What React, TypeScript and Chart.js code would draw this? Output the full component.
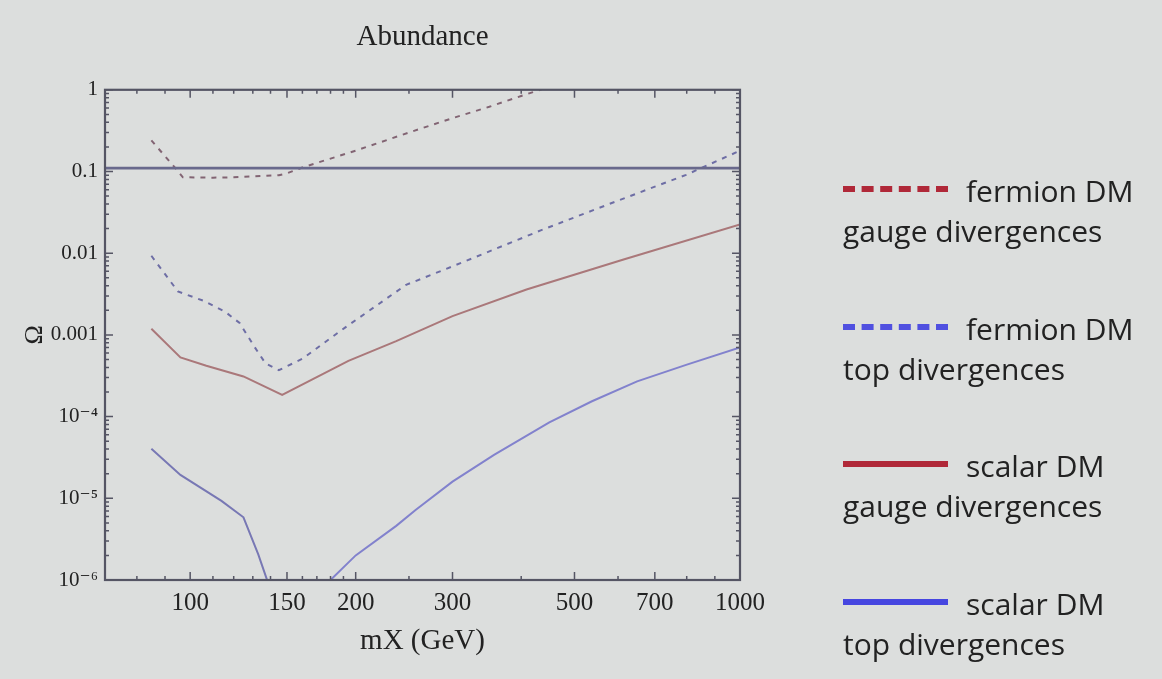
import React, { useEffect, useRef } from "react";
import { Chart, registerables } from "chart.js";

Chart.register(...registerables);

// ---- axes / ticks ----
const xMajorTicks = [100, 150, 200, 300, 500, 700, 1000];
const xMinorTicks = [70, 80, 90, 110, 120, 130, 140, 160, 170, 180, 190, 250, 400, 600, 800, 900];
const yMajorTicks = [1e-6, 1e-5, 1e-4, 1e-3, 1e-2, 1e-1, 1];
const yTickLabels = ["10\u207B\u2076", "10\u207B\u2075", "10\u207B\u2074", "0.001", "0.01", "0.1", "1"];

// ---- series (mX in GeV, Omega) ----
const fermionGaugeMass = [85, 94, 97, 110, 120, 135, 145, 150, 160, 200, 250, 300, 350, 400, 450];
const fermionGaugeOmega = [0.24, 0.11, 0.085, 0.084, 0.085, 0.088, 0.09, 0.095, 0.112, 0.18, 0.3, 0.45, 0.62, 0.84, 1.09];

const fermionTopMass = [85, 95, 106, 116, 123, 131, 137, 145, 160, 191, 247, 300, 434, 600, 798, 1000];
const fermionTopOmega = [0.0093, 0.0034, 0.0026, 0.0019, 0.0014, 0.00071, 0.00045, 0.00037, 0.00051, 0.00122, 0.0041, 0.0069, 0.019, 0.044, 0.091, 0.18];

const scalarGaugeMass = [85, 96, 107, 125, 147, 194, 237, 300, 409, 612, 1000];
const scalarGaugeOmega = [0.00119, 0.00053, 0.00042, 0.00031, 0.000184, 0.00048, 0.00084, 0.0017, 0.0036, 0.0083, 0.0225];

const scalarTopLowMass = [85, 96, 114, 125, 133, 138, 142];
const scalarTopLowOmega = [4.05e-5, 1.93e-5, 9.3e-6, 5.85e-6, 2.06e-6, 1.0e-6, 2.0e-7];

const scalarTopHighMass = [176, 180, 200, 237, 257, 300, 357, 450, 538, 650, 798, 1000];
const scalarTopHighOmega = [4.0e-7, 1.0e-6, 2.0e-6, 4.6e-6, 7.2e-6, 1.6e-5, 3.4e-5, 8.5e-5, 1.54e-4, 2.7e-4, 4.3e-4, 7.0e-4];

const relicMass = [70, 1000];
const relicOmega = [0.11, 0.11];

const toPoints = (xs: number[], ys: number[]) => xs.map((x, i) => ({ x, y: ys[i] }));

const frameColor = "rgb(85,85,100)";
const textColor = "#222";
const serif = "'Liberation Serif', 'DejaVu Serif', serif";

const framePlugin = {
  id: "frameTicks",
  afterDatasetsDraw(chart: any) {
    const { ctx, chartArea, scales } = chart;
    const { left, right, top, bottom } = chartArea;
    const x = scales.x;
    const y = scales.y;
    ctx.save();
    ctx.strokeStyle = frameColor;
    ctx.lineWidth = 1.5;
    ctx.beginPath();
    const xt = (vals: number[], len: number) => {
      vals.forEach((v) => {
        const px = x.getPixelForValue(v);
        ctx.moveTo(px, bottom);
        ctx.lineTo(px, bottom - len);
        ctx.moveTo(px, top);
        ctx.lineTo(px, top + len);
      });
    };
    const yt = (vals: number[], len: number) => {
      vals.forEach((v) => {
        const py = y.getPixelForValue(v);
        ctx.moveTo(left, py);
        ctx.lineTo(left + len, py);
        ctx.moveTo(right, py);
        ctx.lineTo(right - len, py);
      });
    };
    xt(xMajorTicks, 8);
    xt(xMinorTicks, 4);
    yt(yMajorTicks, 8);
    const yMinor: number[] = [];
    for (let d = -6; d < 0; d++) for (let k = 2; k <= 9; k++) yMinor.push(k * Math.pow(10, d));
    yt(yMinor, 4);
    ctx.stroke();
    ctx.lineWidth = 2.2;
    ctx.strokeRect(left, top, right - left, bottom - top);
    ctx.restore();
  },
};

const legendItems = [
  { top: 171, first: "fermion DM", second: "gauge divergences", color: "rgb(176,40,56)", dashed: true },
  { top: 309, first: "fermion DM", second: "top divergences", color: "rgb(80,80,224)", dashed: true },
  { top: 446, first: "scalar DM", second: "gauge divergences", color: "rgb(176,40,56)", dashed: false },
  { top: 584, first: "scalar DM", second: "top divergences", color: "rgb(70,70,224)", dashed: false },
];

export default function App() {
  const canvasRef = useRef<HTMLCanvasElement | null>(null);

  useEffect(() => {
    if (!canvasRef.current) return;
    const common = { pointRadius: 0, borderWidth: 2, tension: 0, fill: false };
    const chart = new Chart(canvasRef.current, {
      type: "line",
      data: {
        datasets: [
          {
            ...common,
            label: "relic abundance",
            data: toPoints(relicMass, relicOmega),
            borderColor: "rgb(105,105,140)",
            borderWidth: 2.6,
          },
          {
            ...common,
            label: "fermion DM gauge divergences",
            data: toPoints(fermionGaugeMass, fermionGaugeOmega),
            borderColor: "rgb(130,100,115)",
            borderDash: [5, 6],
          },
          {
            ...common,
            label: "fermion DM top divergences",
            data: toPoints(fermionTopMass, fermionTopOmega),
            borderColor: "rgb(110,110,165)",
            borderDash: [5, 6],
          },
          {
            ...common,
            label: "scalar DM gauge divergences",
            data: toPoints(scalarGaugeMass, scalarGaugeOmega),
            borderColor: "rgb(170,120,122)",
          },
          {
            ...common,
            label: "scalar DM top divergences",
            data: toPoints(scalarTopLowMass, scalarTopLowOmega),
            borderColor: "rgb(120,120,180)",
          },
          {
            ...common,
            label: "scalar DM top divergences (high)",
            data: toPoints(scalarTopHighMass, scalarTopHighOmega),
            borderColor: "rgb(130,130,205)",
          },
        ],
      },
      options: {
        animation: false,
        responsive: false,
        maintainAspectRatio: false,
        layout: { padding: { left: 0, right: 422, top: 0, bottom: 0 } },
        plugins: {
          legend: { display: false },
          tooltip: { enabled: false },
          title: {
            display: true,
            text: "Abundance",
            fullSize: false,
            color: textColor,
            font: { family: serif, size: 29, weight: "normal" },
            padding: { top: 20, bottom: 35 },
          },
        },
        scales: {
          x: {
            type: "logarithmic",
            min: 70,
            max: 1000,
            position: "bottom",
            grid: { display: false, drawTicks: false, tickLength: 0 },
            border: { display: false },
            afterBuildTicks: (s: any) => {
              s.ticks = xMajorTicks.map((v) => ({ value: v }));
            },
            afterFit: (s: any) => {
              s.height = 99;
            },
            ticks: {
              autoSkip: false,
              maxRotation: 0,
              padding: 8,
              color: textColor,
              font: { family: serif, size: 25 },
              callback: (v: any) => String(v),
            },
            title: {
              display: true,
              text: "mX (GeV)",
              color: textColor,
              font: { family: serif, size: 29 },
              padding: { top: 0, bottom: 20 },
            },
          },
          y: {
            type: "logarithmic",
            min: 1e-6,
            max: 1,
            grid: { display: false, drawTicks: false, tickLength: 0 },
            border: { display: false },
            afterBuildTicks: (s: any) => {
              s.ticks = yMajorTicks.map((v) => ({ value: v }));
            },
            afterFit: (s: any) => {
              s.width = 105;
            },
            ticks: {
              autoSkip: false,
              padding: 7,
              color: textColor,
              font: { family: serif, size: 21 },
              callback: (v: any) => {
                const i = yMajorTicks.findIndex((t) => Math.abs(Math.log10(t) - Math.log10(v)) < 1e-6);
                return i >= 0 ? yTickLabels[i] : "";
              },
            },
            title: {
              display: true,
              text: "\u03A9",
              color: textColor,
              font: { family: serif, size: 26 },
              padding: { top: 20, bottom: 0 },
            },
          },
        },
      },
      plugins: [framePlugin],
    } as any);
    return () => chart.destroy();
  }, []);

  return (
    <div
      style={{
        position: "fixed",
        left: 0,
        top: 0,
        width: 1162,
        height: 679,
        background: "#dcdedd",
        overflow: "hidden",
      }}
    >
      <canvas ref={canvasRef} width={1162} height={679} style={{ position: "absolute", left: 0, top: 0 }} />
      {legendItems.map((it, i) => (
        <div
          key={i}
          style={{
            position: "absolute",
            left: 843,
            top: it.top,
            fontFamily: "'Open Sans', 'Noto Sans', sans-serif",
            fontSize: 30,
            lineHeight: "40px",
            color: "#222",
            whiteSpace: "nowrap",
          }}
        >
          <div style={{ display: "flex", alignItems: "center" }}>
            <span
              style={{
                display: "inline-block",
                width: 105,
                height: 0,
                borderTop: it.dashed ? `6px dashed ${it.color}` : `6px solid ${it.color}`,
                marginRight: 18,
                marginTop: -4,
              }}
            />
            <span>{it.first}</span>
          </div>
          <div>{it.second}</div>
        </div>
      ))}
    </div>
  );
}
